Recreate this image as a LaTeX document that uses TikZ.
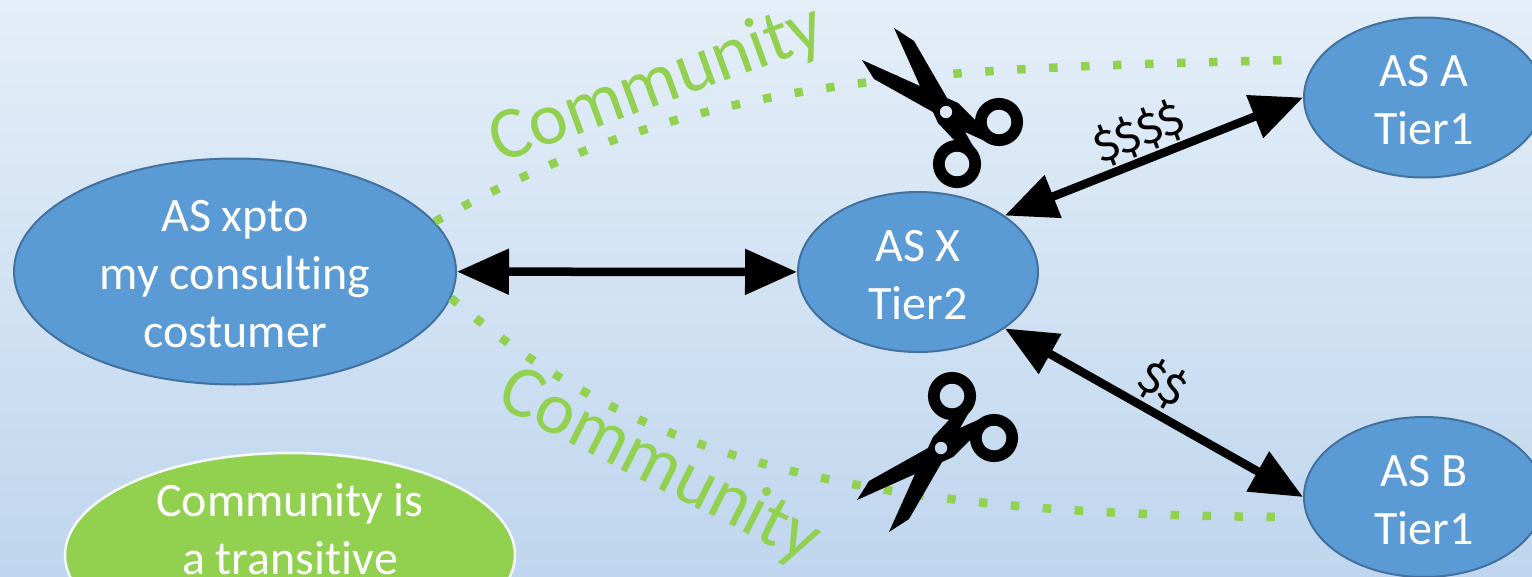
\documentclass[tikz,border=0pt]{standalone}
\usepackage{fontspec}
\setmainfont{Carlito}[Ligatures=CommonOff]
\newfontfamily\moneyfont{Fira Sans}
\usetikzlibrary{arrows.meta,shapes.geometric}
\definecolor{ascolor}{HTML}{5B9BD5}
\definecolor{asedge}{HTML}{41719C}
\definecolor{commcolor}{HTML}{92D050}
\definecolor{bgtop}{HTML}{E4EEF8}
\definecolor{bgbottom}{HTML}{BFD6EE}
\newcommand{\firstline}{\rule{0pt}{37pt}}
\tikzset{
  asnode/.style={ellipse,draw=asedge,fill=ascolor,line width=2pt,inner sep=0pt,text=white,align=center,
    font=\fontsize{48}{58}\selectfont},
  commnode/.style={ellipse,draw=white!85!bgbottom,fill=commcolor,line width=2.5pt,inner sep=0pt,
    minimum width=450pt,minimum height=204pt},
  commtext/.style={text=commcolor,font=\fontsize{74}{80}\selectfont,inner sep=0pt},
  moneytext/.style={font=\moneyfont\fontsize{44}{50}\selectfont,inner sep=0pt},
  peering/.style={line width=8.5pt,{Triangle[length=52pt,width=44pt]}-{Triangle[length=52pt,width=44pt]}},
  dots/.style={commcolor,line width=8.5pt,dash pattern=on 8.5pt off 23.5pt},
  scissors/.pic={
    \fill[black,even odd rule] (-52,-84) -- (-32,-71) -- (1,-14) -- (12,-9) -- (29,8) -- (35,12) -- (41,30)
      -- (19,20) -- (31,41) -- (22,40) -- (9,29) -- (-8,11) -- (-13,0) -- (-72,-33) -- (-84,-52)
      -- (-26,-26) -- cycle (0,0) circle (6.3pt);
    \draw[black,line width=11.7pt] (53,10) circle (18.2pt) (11,52) circle (18.2pt);
  }
}
\begin{document}
\begin{tikzpicture}[x=1pt,y=-1pt]
  \useasboundingbox (0,0) rectangle (1532,576);
  \clip (0,0) rectangle (1532,576);
  \shade[top color=bgtop,bottom color=bgbottom] (0,0) rectangle (1532,576);
  % autonomous systems
  \node[asnode,minimum width=442pt,minimum height=226pt] (xpto) at (235,271.5) {\firstline AS xpto\\my consulting\\costumer};
  \node[asnode,minimum width=240pt,minimum height=160pt] (asx) at (918,272) {\firstline AS X\\Tier2};
  \node[asnode,minimum width=240pt,minimum height=160pt] (asa) at (1424,97.5) {\firstline AS A\\Tier1};
  \node[asnode,minimum width=240pt,minimum height=160pt] (asb) at (1424,497) {\firstline AS B\\Tier1};
  % green note, runs off the page
  \node[commnode] (note) at (290,555) {};
  \node[text=white,align=center,inner sep=0pt,font=\fontsize{48}{58}\selectfont] (notetext) at (290,529) {Community is\\a transitive};
  % links
  \draw[peering] (xpto) -- (asx);
  \draw[peering] (asx.33) -- (asa.west);
  \draw[peering] (asx.-33) -- (asb.west);
  \node[moneytext,rotate=21] (money1) at (1139,133) {\$\$\$\$};
  \node[moneytext,rotate=-30] (money2) at (1163,384) {\$\$};
  % community paths
  \coordinate (topend) at (1290,60); \coordinate (bottomend) at (1290,517);
  \draw[dots] (xpto.14) .. controls (700,75) and (900,70) .. (topend);
  \draw[dots] (xpto.-7) .. controls (620,440) and (800,515) .. (bottomend);
  \node[commtext,rotate=20] (comm1) at (657,85) {Community};
  \node[commtext,rotate=-27] (comm2) at (659,467) {Community};
  % scissors
  \pic at (946,112) {scissors};
  \pic[yscale=-1] at (941,448) {scissors};
\end{tikzpicture}
\end{document}
